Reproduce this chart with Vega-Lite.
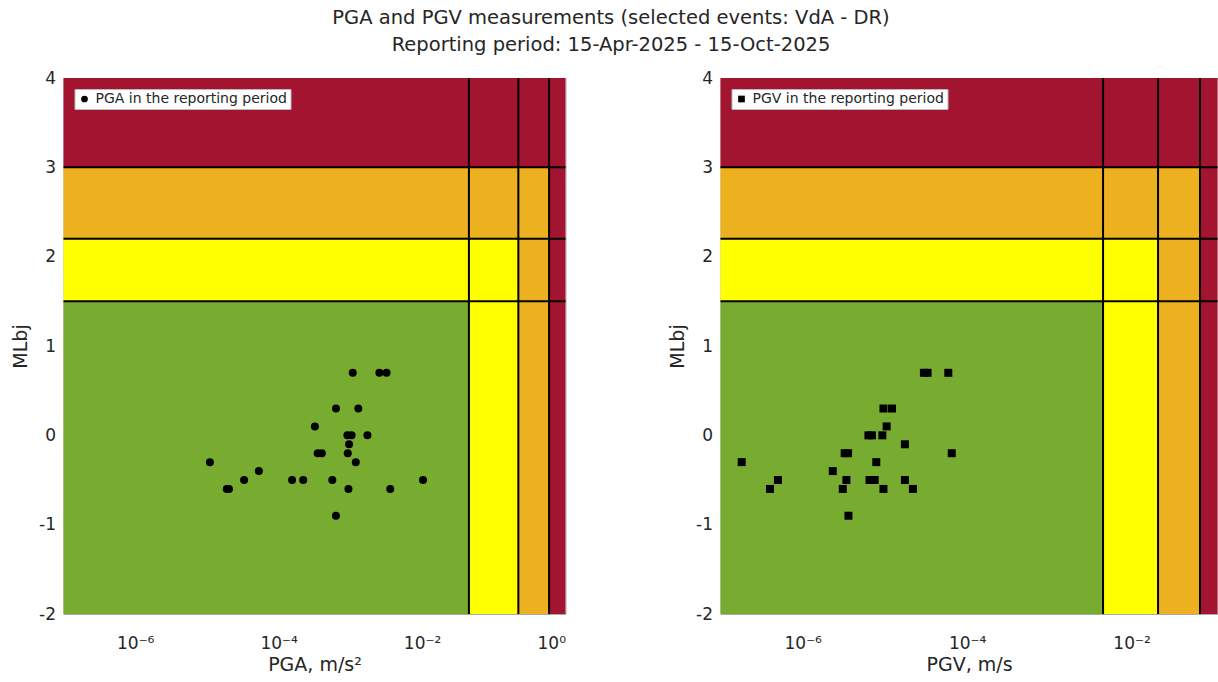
{
  "$schema": "https://vega.github.io/schema/vega-lite/v6.json",
  "padding": {"left": 10.5, "top": 8, "right": 0, "bottom": 0},
  "background": "white",
  "title": {
    "text": ["PGA and PGV measurements (selected events: VdA - DR)", "Reporting period: 15-Apr-2025 - 15-Oct-2025"],
    "font": "DejaVu Sans", "fontSize": 19.5, "fontWeight": "normal", "color": "#262626",
    "lineHeight": 27, "offset": 13, "anchor": "middle", "dx": -4
  },
  "config": {
    "view": {"stroke": "#aaaaaa", "strokeWidth": 1},
    "axis": {
      "labelFont": "DejaVu Sans", "titleFont": "DejaVu Sans",
      "labelFontSize": 17, "titleFontSize": 19, "titleFontWeight": "normal",
      "labelColor": "#262626", "titleColor": "#262626",
      "grid": false, "domain": false, "ticks": false
    },
    "legend": {
      "orient": "top-left", "offset": 11, "padding": 3,
      "fillColor": "white", "strokeColor": "#bbbbbb",
      "labelFont": "DejaVu Sans", "labelFontSize": 14, "labelColor": "#262626", "labelLimit": 400,
      "symbolSize": 45, "title": null
    }
  },
  "resolve": {"scale": {"shape": "independent"}, "legend": {"shape": "independent"}},
  "datasets": {
    "cellsA": [
      {"x1": 1e-7, "x2": 0.045, "y1": -2, "y2": 1.5, "level": 0},
      {"x1": 1e-7, "x2": 0.045, "y1": 1.5, "y2": 2.2, "level": 1},
      {"x1": 1e-7, "x2": 0.045, "y1": 2.2, "y2": 3, "level": 2},
      {"x1": 1e-7, "x2": 0.045, "y1": 3, "y2": 4, "level": 3},
      {"x1": 0.045, "x2": 0.22, "y1": -2, "y2": 1.5, "level": 1},
      {"x1": 0.045, "x2": 0.22, "y1": 1.5, "y2": 2.2, "level": 1},
      {"x1": 0.045, "x2": 0.22, "y1": 2.2, "y2": 3, "level": 2},
      {"x1": 0.045, "x2": 0.22, "y1": 3, "y2": 4, "level": 3},
      {"x1": 0.22, "x2": 0.59, "y1": -2, "y2": 1.5, "level": 2},
      {"x1": 0.22, "x2": 0.59, "y1": 1.5, "y2": 2.2, "level": 2},
      {"x1": 0.22, "x2": 0.59, "y1": 2.2, "y2": 3, "level": 2},
      {"x1": 0.22, "x2": 0.59, "y1": 3, "y2": 4, "level": 3},
      {"x1": 0.59, "x2": 1, "y1": -2, "y2": 1.5, "level": 3},
      {"x1": 0.59, "x2": 1, "y1": 1.5, "y2": 2.2, "level": 3},
      {"x1": 0.59, "x2": 1, "y1": 2.2, "y2": 3, "level": 3},
      {"x1": 0.59, "x2": 1, "y1": 3, "y2": 4, "level": 3}
    ],
    "cellsV": [
      {"x1": 1e-7, "x2": 0.0045, "y1": -2, "y2": 1.5, "level": 0},
      {"x1": 1e-7, "x2": 0.0045, "y1": 1.5, "y2": 2.2, "level": 1},
      {"x1": 1e-7, "x2": 0.0045, "y1": 2.2, "y2": 3, "level": 2},
      {"x1": 1e-7, "x2": 0.0045, "y1": 3, "y2": 4, "level": 3},
      {"x1": 0.0045, "x2": 0.021, "y1": -2, "y2": 1.5, "level": 1},
      {"x1": 0.0045, "x2": 0.021, "y1": 1.5, "y2": 2.2, "level": 1},
      {"x1": 0.0045, "x2": 0.021, "y1": 2.2, "y2": 3, "level": 2},
      {"x1": 0.0045, "x2": 0.021, "y1": 3, "y2": 4, "level": 3},
      {"x1": 0.021, "x2": 0.068, "y1": -2, "y2": 1.5, "level": 2},
      {"x1": 0.021, "x2": 0.068, "y1": 1.5, "y2": 2.2, "level": 2},
      {"x1": 0.021, "x2": 0.068, "y1": 2.2, "y2": 3, "level": 2},
      {"x1": 0.021, "x2": 0.068, "y1": 3, "y2": 4, "level": 3},
      {"x1": 0.068, "x2": 0.111, "y1": -2, "y2": 1.5, "level": 3},
      {"x1": 0.068, "x2": 0.111, "y1": 1.5, "y2": 2.2, "level": 3},
      {"x1": 0.068, "x2": 0.111, "y1": 2.2, "y2": 3, "level": 3},
      {"x1": 0.068, "x2": 0.111, "y1": 3, "y2": 4, "level": 3}
    ],
    "thrA": [
      {"axis": "x", "value": 0.045},
      {"axis": "x", "value": 0.22},
      {"axis": "x", "value": 0.59},
      {"axis": "y", "value": 1.5},
      {"axis": "y", "value": 2.2},
      {"axis": "y", "value": 3}
    ],
    "thrV": [
      {"axis": "x", "value": 0.0045},
      {"axis": "x", "value": 0.021},
      {"axis": "x", "value": 0.068},
      {"axis": "y", "value": 1.5},
      {"axis": "y", "value": 2.2},
      {"axis": "y", "value": 3}
    ],
    "pga": [
      {"pga": 0.00108, "ml": 0.7},
      {"pga": 0.00254, "ml": 0.7},
      {"pga": 0.0032, "ml": 0.7},
      {"pga": 0.00063, "ml": 0.3},
      {"pga": 0.00129, "ml": 0.3},
      {"pga": 0.00032, "ml": 0.1},
      {"pga": 0.00091, "ml": 0.0},
      {"pga": 0.00104, "ml": 0.0},
      {"pga": 0.00173, "ml": 0.0},
      {"pga": 0.00096, "ml": -0.1},
      {"pga": 0.00035, "ml": -0.2},
      {"pga": 0.0004, "ml": -0.2},
      {"pga": 0.00092, "ml": -0.2},
      {"pga": 0.000011, "ml": -0.3},
      {"pga": 0.00119, "ml": -0.3},
      {"pga": 0.000053, "ml": -0.4},
      {"pga": 0.000033, "ml": -0.5},
      {"pga": 0.000154, "ml": -0.5},
      {"pga": 0.00022, "ml": -0.5},
      {"pga": 0.00056, "ml": -0.5},
      {"pga": 0.0103, "ml": -0.5},
      {"pga": 0.0000189, "ml": -0.6},
      {"pga": 0.0000203, "ml": -0.6},
      {"pga": 0.00094, "ml": -0.6},
      {"pga": 0.0036, "ml": -0.6},
      {"pga": 0.00063, "ml": -0.9}
    ],
    "pgv": [
      {"pgv": 0.0000298, "ml": 0.7},
      {"pgv": 0.000033, "ml": 0.7},
      {"pgv": 0.000059, "ml": 0.7},
      {"pgv": 0.0000096, "ml": 0.3},
      {"pgv": 0.0000122, "ml": 0.3},
      {"pgv": 0.0000105, "ml": 0.1},
      {"pgv": 0.0000063, "ml": 0.0},
      {"pgv": 0.00000695, "ml": 0.0},
      {"pgv": 0.0000093, "ml": 0.0},
      {"pgv": 0.0000175, "ml": -0.1},
      {"pgv": 0.00000324, "ml": -0.2},
      {"pgv": 0.00000356, "ml": -0.2},
      {"pgv": 0.000065, "ml": -0.2},
      {"pgv": 0.000000181, "ml": -0.3},
      {"pgv": 0.00000785, "ml": -0.3},
      {"pgv": 0.00000232, "ml": -0.4},
      {"pgv": 0.0000005, "ml": -0.5},
      {"pgv": 0.0000034, "ml": -0.5},
      {"pgv": 0.0000065, "ml": -0.5},
      {"pgv": 0.0000075, "ml": -0.5},
      {"pgv": 0.0000175, "ml": -0.5},
      {"pgv": 0.0000004, "ml": -0.6},
      {"pgv": 0.00000307, "ml": -0.6},
      {"pgv": 0.0000096, "ml": -0.6},
      {"pgv": 0.0000219, "ml": -0.6},
      {"pgv": 0.0000036, "ml": -0.9}
    ]
  },
  "bounds": "flush",
  "spacing": 155,
  "hconcat": [
    {
      "width": 502,
      "height": 536,
      "layer": [
        {
          "data": {"name": "cellsA"},
          "mark": {"type": "rect", "strokeWidth": 0},
          "encoding": {
            "x": {"field": "x1", "type": "quantitative", "title": "PGA, m/s²",
              "scale": {"type": "log", "domain": [1e-7, 1], "nice": false},
              "axis": {"values": [1e-6, 1e-4, 1e-2, 1], "labelPadding": 21, "titlePadding": 4,
                "labelExpr": "datum.value > 0.5 ? '10⁰' : datum.value > 0.005 ? '10⁻²' : datum.value > 0.00005 ? '10⁻⁴' : '10⁻⁶'"}},
            "x2": {"field": "x2"},
            "y": {"field": "y1", "type": "quantitative", "title": "MLbj",
              "scale": {"domain": [-2, 4], "nice": false, "zero": false},
              "axis": {"values": [-2, -1, 0, 1, 2, 3, 4], "labelPadding": 8, "titlePadding": 8,
                "labelExpr": "datum.value < 0 ? '-' + abs(datum.value) : '' + datum.value"}},
            "y2": {"field": "y2"},
            "color": {"field": "level", "type": "ordinal",
              "scale": {"domain": [0, 1, 2, 3], "range": ["#77AC30", "#FFFF00", "#EDB120", "#A2142F"]},
              "legend": null}
          }
        },
        {
          "data": {"name": "thrA"},
          "transform": [{"filter": "datum.axis == 'x'"}],
          "mark": {"type": "rule", "color": "black", "strokeWidth": 2},
          "encoding": {"x": {"field": "value", "type": "quantitative", "title": "PGA, m/s²"}}
        },
        {
          "data": {"name": "thrA"},
          "transform": [{"filter": "datum.axis == 'y'"}],
          "mark": {"type": "rule", "color": "black", "strokeWidth": 2},
          "encoding": {"y": {"field": "value", "type": "quantitative", "title": "MLbj"}}
        },
        {
          "data": {"name": "pga"},
          "mark": {"type": "point", "filled": true, "color": "black", "size": 64, "opacity": 1},
          "encoding": {
            "x": {"field": "pga", "type": "quantitative", "title": "PGA, m/s²"},
            "y": {"field": "ml", "type": "quantitative", "title": "MLbj"},
            "shape": {"datum": "PGA in the reporting period", "scale": {"range": ["circle"]}}
          }
        }
      ]
    },
    {
      "width": 497,
      "height": 536,
      "layer": [
        {
          "data": {"name": "cellsV"},
          "mark": {"type": "rect", "strokeWidth": 0},
          "encoding": {
            "x": {"field": "x1", "type": "quantitative", "title": "PGV, m/s",
              "scale": {"type": "log", "domain": [1e-7, 0.111], "nice": false},
              "axis": {"values": [1e-6, 1e-4, 1e-2], "labelPadding": 21, "titlePadding": 4,
                "labelExpr": "datum.value > 0.5 ? '10⁰' : datum.value > 0.005 ? '10⁻²' : datum.value > 0.00005 ? '10⁻⁴' : '10⁻⁶'"}},
            "x2": {"field": "x2"},
            "y": {"field": "y1", "type": "quantitative", "title": "MLbj",
              "scale": {"domain": [-2, 4], "nice": false, "zero": false},
              "axis": {"values": [-2, -1, 0, 1, 2, 3, 4], "labelPadding": 8, "titlePadding": 8,
                "labelExpr": "datum.value < 0 ? '-' + abs(datum.value) : '' + datum.value"}},
            "y2": {"field": "y2"},
            "color": {"field": "level", "type": "ordinal",
              "scale": {"domain": [0, 1, 2, 3], "range": ["#77AC30", "#FFFF00", "#EDB120", "#A2142F"]},
              "legend": null}
          }
        },
        {
          "data": {"name": "thrV"},
          "transform": [{"filter": "datum.axis == 'x'"}],
          "mark": {"type": "rule", "color": "black", "strokeWidth": 2},
          "encoding": {"x": {"field": "value", "type": "quantitative", "title": "PGV, m/s"}}
        },
        {
          "data": {"name": "thrV"},
          "transform": [{"filter": "datum.axis == 'y'"}],
          "mark": {"type": "rule", "color": "black", "strokeWidth": 2},
          "encoding": {"y": {"field": "value", "type": "quantitative", "title": "MLbj"}}
        },
        {
          "data": {"name": "pgv"},
          "mark": {"type": "point", "filled": true, "color": "black", "size": 64, "opacity": 1},
          "encoding": {
            "x": {"field": "pgv", "type": "quantitative", "title": "PGV, m/s"},
            "y": {"field": "ml", "type": "quantitative", "title": "MLbj"},
            "shape": {"datum": "PGV in the reporting period", "scale": {"range": ["square"]}}
          }
        }
      ]
    }
  ]
}
